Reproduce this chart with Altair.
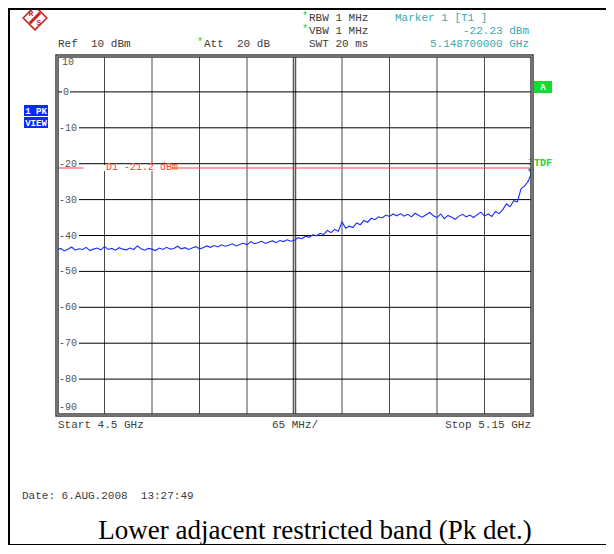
import altair as alt
import pandas as pd

# ---------------- data ----------------
F_START, F_STOP = 4.5, 5.15          # GHz
REF_TOP, REF_BOTTOM = 10, -90        # dBm

freq_ghz = [round(4.5 + 0.005 * i, 3) for i in range(131)]
level_dbm = [
    -44.0, -43.6, -44.3, -43.8, -43.2, -44.1, -43.7, -43.9, -43.3, -44.2,
    -43.8, -43.5, -44.0, -43.1, -43.9, -43.6, -44.1, -43.4, -43.8, -44.0,
    -43.5, -43.9, -42.9, -43.7, -44.1, -43.6, -43.8, -44.2, -43.5, -43.9,
    -43.3, -43.8, -43.6, -43.0, -43.7, -43.4, -43.9, -43.5, -43.1, -43.7,
    -43.4, -42.9, -43.3, -42.8, -43.2, -42.6, -43.0, -42.7, -42.3, -42.9,
    -42.5, -42.1, -42.6, -41.7, -42.3, -42.0, -41.6, -42.2, -41.8, -41.5,
    -42.0, -41.4, -41.7, -41.2, -41.6, -41.3, -40.6, -40.9, -40.2, -40.5,
    -39.8, -40.1, -39.4, -39.7, -38.6, -39.2, -38.3, -38.8, -36.2, -38.0,
    -37.4, -37.8, -36.5, -37.0, -35.8, -36.3, -35.2, -35.6, -34.8, -35.1,
    -34.3, -34.7, -34.0, -34.5, -33.9, -34.6, -34.1, -34.8, -33.8, -34.4,
    -34.9, -34.2, -33.6, -34.5, -35.0, -34.0, -35.3, -34.4, -34.9, -35.5,
    -34.6, -34.1, -34.8, -34.3, -35.0, -34.2, -33.5, -34.6, -34.0, -34.7,
    -33.3, -33.9, -32.8, -31.2, -32.0, -30.3, -30.6, -27.0, -26.2, -24.8,
    -22.2,
]

marker_freq, marker_level = 5.1487, -22.23
display_line_d1 = -21.2

grid_levels = [0, -10, -20, -30, -40, -50, -60, -70, -80]
grid_labels = ["0", "-10", "-20", "-30", "-40", "-50", "-60", "-70", "-80"]
vgrid_freqs = [4.565, 4.63, 4.695, 4.76, 4.89, 4.955, 5.02, 5.085]
center_freq = 4.825

header_left = ["Ref\u00a0\u00a010\u00a0dBm", "Att\u00a0\u00a020\u00a0dB"]
header_mid = ["RBW\u00a01\u00a0MHz", "VBW\u00a01\u00a0MHz", "SWT\u00a020\u00a0ms"]
header_marker = ["Marker\u00a01\u00a0[T1\u00a0]", "-22.23\u00a0dBm", "5.148700000\u00a0GHz"]
bottom_labels = ["Start\u00a04.5\u00a0GHz", "65\u00a0MHz/", "Stop\u00a05.15\u00a0GHz"]
date_text = "Date:\u00a06.AUG.2008\u00a0\u00a013:27:49"
d1_text = "D1\u00a0-21.2\u00a0dBm"
caption = "Lower adjacent restricted band (Pk det.)"

# ---------------- layout ----------------
W, H = 475, 359
PL, PT, PR, PB = 49, 48, 74, 130
MONO = "Liberation Mono"
GREY = "#3c3c3c"
TEAL = "#3aa9b0"
GREEN = "#22d040"


def rx(xp):  # page x -> plot-relative pixel
    return xp - (8 + PL)


def ry(yp):
    return yp - (8 + PT)


xs = alt.Scale(domain=[F_START, F_STOP], nice=False, zero=False)
ys = alt.Scale(domain=[REF_BOTTOM, REF_TOP], nice=False, zero=False)
one = pd.DataFrame({"a": [0]})


def txt(s, x, y, color=GREY, size=11, align="left", font=MONO, weight="normal", baseline="middle"):
    return alt.Chart(pd.DataFrame({"t": [s]})).mark_text(
        align=align, baseline=baseline, font=font, fontSize=size, color=color, fontWeight=weight
    ).encode(x=alt.value(x), y=alt.value(y), text="t:N")


def hline(x1, x2, y, color="black", w=2):
    return alt.Chart(one).mark_rule(color=color, strokeWidth=w).encode(
        x=alt.value(x1), x2=alt.value(x2), y=alt.value(y))


def vline(x, y1, y2, color="black", w=2):
    return alt.Chart(one).mark_rule(color=color, strokeWidth=w).encode(
        x=alt.value(x), y=alt.value(y1), y2=alt.value(y2))


layers = []

# vertical grid
vg = pd.DataFrame({"f": vgrid_freqs})
layers.append(alt.Chart(vg).mark_rule(color="#4a4a4a", strokeWidth=1).encode(
    x=alt.X("f:Q", scale=xs, axis=None), y=alt.value(0), y2=alt.value(H)))
cf = pd.DataFrame({"f": [center_freq]})
layers.append(alt.Chart(cf).mark_rule(color="#555555", strokeWidth=3.5).encode(
    x=alt.X("f:Q", scale=xs, axis=None), y=alt.value(0), y2=alt.value(H)))
layers.append(alt.Chart(cf).mark_rule(color="#c8c8c8", strokeWidth=1).encode(
    x=alt.X("f:Q", scale=xs, axis=None), y=alt.value(0), y2=alt.value(H)))

# horizontal grid (broken where the level labels sit)
hg = pd.DataFrame({"lvl": grid_levels, "lab": grid_labels})
hg_neg = hg[hg.lvl < 0]
hg_zero = hg[hg.lvl == 0]
layers.append(alt.Chart(hg_neg).mark_rule(color="black", strokeWidth=1).encode(
    y=alt.Y("lvl:Q", scale=ys, axis=None), x=alt.value(22), x2=alt.value(W)))
layers.append(alt.Chart(hg_zero).mark_rule(color="black", strokeWidth=1).encode(
    y=alt.Y("lvl:Q", scale=ys, axis=None), x=alt.value(13), x2=alt.value(W)))
layers.append(alt.Chart(hg_zero).mark_rule(color="black", strokeWidth=1).encode(
    y=alt.Y("lvl:Q", scale=ys, axis=None), x=alt.value(0), x2=alt.value(5)))

# level labels
layers.append(alt.Chart(hg_neg).mark_text(align="left", baseline="middle", font=MONO,
                                           fontSize=10, color="#555555").encode(
    y=alt.Y("lvl:Q", scale=ys, axis=None), x=alt.value(2), text="lab:N"))
layers.append(alt.Chart(hg_zero).mark_text(align="left", baseline="middle", font=MONO,
                                            fontSize=10, color="#555555").encode(
    y=alt.Y("lvl:Q", scale=ys, axis=None), x=alt.value(6), text="lab:N"))
layers.append(txt(str(REF_TOP), 5, 6, color="#555555", size=10))
layers.append(txt(str(REF_BOTTOM), 2, 351, color="#555555", size=10))

# display line D1
d1 = pd.DataFrame({"lvl": [display_line_d1]})
layers.append(alt.Chart(d1).mark_rule(color="#ff4040", strokeWidth=1).encode(
    y=alt.Y("lvl:Q", scale=ys, axis=None), x=alt.value(0), x2=alt.value(W)))
d1l = pd.DataFrame({"f": [4.5965], "lvl": [display_line_d1]})
layers.append(alt.Chart(d1l).mark_point(
    shape="M-1,-0.07H1V0.07H-1Z", filled=True, color="white", opacity=1, size=88 * 88).encode(
    x=alt.X("f:Q", scale=xs, axis=None), y=alt.Y("lvl:Q", scale=ys, axis=None)))
layers.append(txt(d1_text, rx(106), ry(167), color="#ff4040", size=10))

# trace
trace = pd.DataFrame({"f": freq_ghz, "lvl": level_dbm})
layers.append(alt.Chart(trace).mark_line(color="#1a2cff", strokeWidth=1.1, clip=True).encode(
    x=alt.X("f:Q", scale=xs, axis=None), y=alt.Y("lvl:Q", scale=ys, axis=None)))

# marker
mk = pd.DataFrame({"f": [marker_freq], "lvl": [marker_level], "n": ["1"]})
layers.append(alt.Chart(mk).mark_point(shape="triangle-down", filled=True, color="#2a9a9a",
                                       size=45, opacity=1).encode(
    x=alt.X("f:Q", scale=xs, axis=None), y=alt.Y("lvl:Q", scale=ys, axis=None)))
layers.append(alt.Chart(mk).mark_text(color="#2a9a9a", font=MONO, fontSize=10, dy=-10).encode(
    x=alt.X("f:Q", scale=xs, axis=None), y=alt.Y("lvl:Q", scale=ys, axis=None), text="n:N"))
layers.append(txt("TDF", rx(534), ry(163), color=GREEN, size=10, weight="bold"))

# plot frame (double line)
frame = alt.Chart(one)
layers.append(frame.mark_rect(fillOpacity=0, stroke="#3a3a3a", strokeWidth=3.5).encode(
    x=alt.value(0), x2=alt.value(W), y=alt.value(0), y2=alt.value(H)))
layers.append(frame.mark_rect(fillOpacity=0, stroke="#c8c8c8", strokeWidth=0.8).encode(
    x=alt.value(0), x2=alt.value(W), y=alt.value(0), y2=alt.value(H)))

# green "A" box
layers.append(frame.mark_rect(color="#10dd30").encode(
    x=alt.value(rx(534)), x2=alt.value(rx(552)), y=alt.value(ry(81)), y2=alt.value(ry(93))))
layers.append(txt("A", rx(543), ry(87), color="white", size=9, align="center", weight="bold"))

# blue trace info boxes
layers.append(frame.mark_rect(color="#0a28ff").encode(
    x=alt.value(rx(24)), x2=alt.value(rx(48)), y=alt.value(ry(105)), y2=alt.value(ry(116))))
layers.append(frame.mark_rect(color="#0a28ff").encode(
    x=alt.value(rx(24)), x2=alt.value(rx(48)), y=alt.value(ry(117)), y2=alt.value(ry(128))))
layers.append(txt("1\u00a0PK", rx(36), ry(110.5), color="white", size=9, align="center", weight="bold"))
layers.append(txt("VIEW", rx(36), ry(122.5), color="white", size=9, align="center", weight="bold"))

# header texts
layers.append(txt(header_left[0], rx(58), ry(44)))
layers.append(txt("*", rx(197), ry(42), color=GREEN, size=10))
layers.append(txt(header_left[1], rx(204), ry(44)))
layers.append(txt("*", rx(302), ry(16), color=GREEN, size=10))
layers.append(txt(header_mid[0], rx(309), ry(18)))
layers.append(txt("*", rx(302), ry(29), color=GREEN, size=10))
layers.append(txt(header_mid[1], rx(309), ry(31)))
layers.append(txt(header_mid[2], rx(309), ry(44)))
layers.append(txt(header_marker[0], rx(395), ry(18), color=TEAL))
layers.append(txt(header_marker[1], rx(529), ry(31), color=TEAL, align="right"))
layers.append(txt(header_marker[2], rx(529), ry(44), color=TEAL, align="right"))

# bottom texts
layers.append(txt(bottom_labels[0], rx(58), ry(425)))
layers.append(txt(bottom_labels[1], rx(295), ry(425), align="center"))
layers.append(txt(bottom_labels[2], rx(531), ry(425), align="right"))
layers.append(txt(date_text, rx(22), ry(496)))
layers.append(txt(caption, rx(315), ry(539), color="black", size=27,
                  font="Liberation Serif", align="center", baseline="alphabetic"))

# R&S logo
logo = pd.DataFrame({"a": [0]})
layers.append(alt.Chart(logo).mark_point(shape="diamond", filled=True, fill="white",
                                         stroke="#cc1f1f", strokeWidth=1.6, size=560, opacity=1).encode(
    x=alt.value(rx(35)), y=alt.value(ry(18))))
layers.append(alt.Chart(logo).mark_point(shape="M-0.6,0.6L0.6,-0.6", filled=False,
                                         stroke="#cc1f1f", strokeWidth=3, size=300, opacity=1).encode(
    x=alt.value(rx(35)), y=alt.value(ry(18))))
layers.append(txt("R", rx(31), ry(14), color="#cc1f1f", size=8, align="center", weight="bold"))
layers.append(txt("S", rx(39), ry(23), color="#cc1f1f", size=8, align="center", weight="bold"))

# outer page frame
layers.append(hline(rx(8), rx(606), ry(9), w=2))
layers.append(hline(rx(8), rx(606), ry(545), w=2))
layers.append(vline(rx(9), ry(8), ry(546), w=2))

chart = alt.layer(*layers).properties(
    width=W, height=H,
    padding={"left": PL, "top": PT, "right": PR, "bottom": PB},
    autosize=alt.AutoSizeParams(type="none"),
    background="white",
).configure_view(strokeWidth=0)

chart.save("out.html", embed_options={"renderer": "svg", "actions": False})
